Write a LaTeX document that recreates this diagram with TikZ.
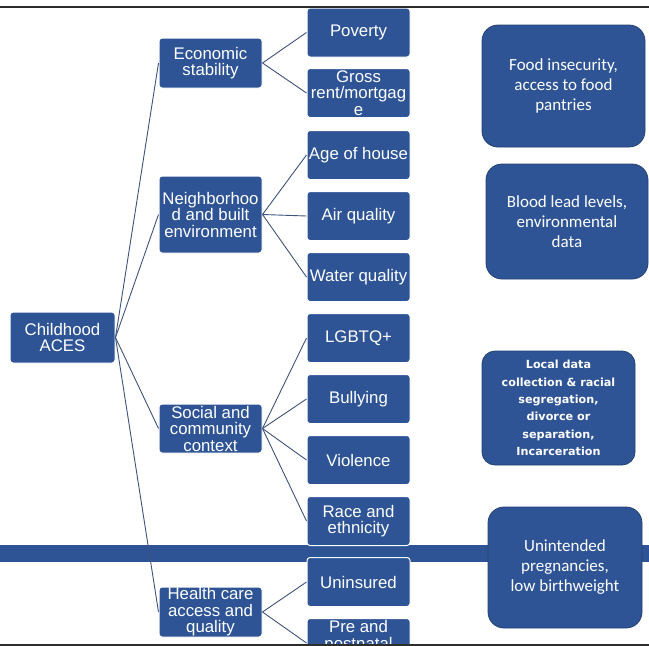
\documentclass[tikz,border=0pt]{standalone}
\usepackage{fontspec}
\setmainfont{Liberation Sans}
\newfontfamily\outfont{Carlito}
\newfontfamily\notefont{DejaVu Sans}
\definecolor{acesblue}{RGB}{46,84,150}
\definecolor{acesedge}{RGB}{36,64,112}
\definecolor{linkcol}{RGB}{62,82,122}
\definecolor{rulecol}{RGB}{45,45,45}
\tikzset{
  box/.style={rectangle, rounded corners=3pt, fill=acesblue, draw=white,
    line width=1pt, text=white, align=center, inner sep=0pt,
    font=\fontsize{16.8}{16.5}\selectfont},
  catbox/.style={box, minimum width=103pt, minimum height=50pt},
  leafbox/.style={box, minimum width=103pt, minimum height=49pt},
  outbox/.style={rectangle, rounded corners=16pt, fill=acesblue, draw=acesedge,
    line width=0.8pt, text=white, align=center, inner sep=0pt,
    font=\outfont\fontsize{17}{20}\selectfont},
  link/.style={draw=linkcol, line width=0.9pt},
  rulebar/.style={draw=rulecol, line width=2pt}
}
\begin{document}
\begin{tikzpicture}[x=1pt, y=-1pt]
\useasboundingbox (0,0) rectangle (649,646);
\begin{scope}
\clip (0,7) rectangle (649,644);
% horizontal band behind the lower boxes
\fill[acesblue] (0,545) rectangle (649,562);

% root
\node[box, minimum width=105pt, minimum height=51pt] (aces) at (62.5,337.5) {Childhood\\ACES};

% categories
\node[catbox] (econ) at (210.5,63) {Economic\\stability};
\node[catbox, minimum height=77pt] (neigh) at (210.5,214.5) {Neighborhoo\\d and built\\environment};
\node[catbox, minimum height=49pt] (social) at (210.5,428.5) {Social and\\community\\context};
\node[catbox] (health) at (210.5,612) {Health care\\access and\\quality};

% indicators
\node[leafbox] (poverty) at (358.5,32.5) {Poverty};
\node[leafbox] (gross) at (358.5,93) {Gross\\rent/mortgag\\e};
\node[leafbox] (age) at (358.5,155) {Age of house};
\node[leafbox] (air) at (358.5,216) {Air quality};
\node[leafbox] (water) at (358.5,277) {Water quality};
\node[leafbox] (lgbtq) at (358.5,338) {LGBTQ+};
\node[leafbox] (bully) at (358.5,399) {Bullying};
\node[leafbox] (violence) at (358.5,460) {Violence};
\node[leafbox] (race) at (358.5,521) {Race and\\ethnicity};
\node[leafbox] (uninsured) at (358.5,582) {Uninsured};
\node[leafbox] (prenatal) at (358.5,643) {};
\node[text=white, align=center, font=\fontsize{16.8}{17.5}\selectfont, anchor=north, inner sep=0pt]
  (prenataltext) at ([yshift=-2pt]prenatal.north) {Pre and\\postnatal};

% data sources
\node[outbox, minimum width=163pt, minimum height=122pt] (food) at (563.5,86) {Food insecurity,\\access to food\\pantries};
\node[outbox, minimum width=162pt, minimum height=115pt] (lead) at (567,221.5) {Blood lead levels,\\environmental\\data};
\node[outbox, rounded corners=13pt, minimum width=153pt, minimum height=114pt,
  font=\notefont\bfseries\fontsize{11.2}{17.3}\selectfont] (local) at (558.5,408)
  {Local data\\collection \& racial\\segregation,\\divorce or\\separation,\\Incarceration};
\node[outbox, minimum width=154pt, minimum height=121pt] (births) at (565,567.5) {Unintended\\pregnancies,\\low birthweight};

% connectors: root to categories
\foreach \c in {econ, neigh, social, health}
  \draw[link] (aces.east) -- (\c.west);
% connectors: categories to indicators
\foreach \l in {poverty, gross}
  \draw[link] (econ.east) -- (\l.west);
\foreach \l in {age, air, water}
  \draw[link] (neigh.east) -- (\l.west);
\foreach \l in {lgbtq, bully, violence, race}
  \draw[link] (social.east) -- (\l.west);
\foreach \l in {uninsured, prenatal}
  \draw[link] (health.east) -- (\l.west);
\end{scope}

% frame rules at top and bottom
\coordinate (tl) at (0,6.5);
\coordinate (tr) at (649,6.5);
\coordinate (bl) at (0,644.5);
\coordinate (br) at (649,644.5);
\draw[rulebar] (tl) -- (tr);
\draw[rulebar] (bl) -- (br);
\end{tikzpicture}
\end{document}
